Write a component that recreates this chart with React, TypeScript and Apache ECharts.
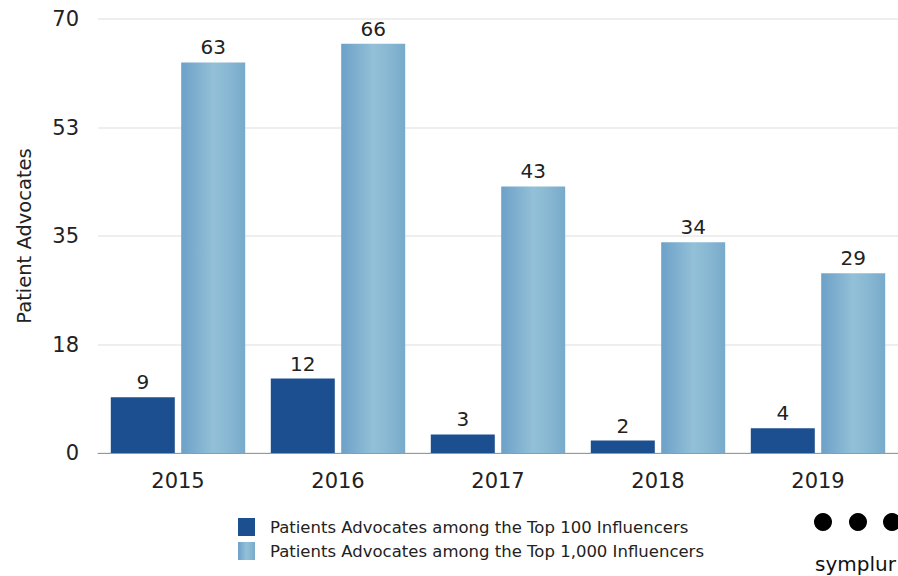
import React, { useEffect, useRef } from "react";
import * as echarts from "echarts";

const categories = ["2015", "2016", "2017", "2018", "2019"];
const top100 = [9, 12, 3, 2, 4];
const top1000 = [63, 66, 43, 34, 29];
const seriesNames = [
  "Patients Advocates among the Top 100 Influencers",
  "Patients Advocates among the Top 1,000 Influencers",
];
const yMax = 70;
const yInterval = 17.5;
const axisName = "Patient Advocates";
const brand = "symplur";

const FONT = "'DejaVu Sans', 'Noto Sans', sans-serif";

export default function App() {
  const ref = useRef<HTMLDivElement>(null);
  useEffect(() => {
    if (!ref.current) return;
    const chart = echarts.init(ref.current, undefined, { renderer: "svg" });
    const lightFill = new echarts.graphic.LinearGradient(0, 0, 1, 0, [
      { offset: 0, color: "#6ea1c8" },
      { offset: 0.25, color: "#7fb0d0" },
      { offset: 0.5, color: "#93c0d8" },
      { offset: 0.7, color: "#8ab9d3" },
      { offset: 1, color: "#78aacb" },
    ]);
    const labelStyle = {
      show: true,
      position: "top",
      fontSize: 20,
      color: "#222",
      distance: 5,
      fontFamily: FONT,
    };
    chart.setOption({
      animation: false,
      backgroundColor: "#ffffff",
      textStyle: { fontFamily: FONT },
      grid: { left: 98, right: 0, top: 19, bottom: 123 },
      legend: {
        orient: "vertical",
        left: 233,
        top: 513,
        icon: "rect",
        itemWidth: 17,
        itemHeight: 18,
        itemGap: 6,
        textStyle: { fontSize: 16.5, color: "#222", fontFamily: FONT, padding: [0, 0, 0, 10] },
        data: seriesNames,
      },
      xAxis: {
        type: "category",
        data: categories,
        axisLine: { lineStyle: { color: "#999", width: 1 } },
        axisTick: { show: false },
        axisLabel: { fontSize: 21, color: "#222", margin: 17, fontFamily: FONT },
      },
      yAxis: {
        type: "value",
        min: 0,
        max: yMax,
        interval: yInterval,
        name: axisName,
        nameLocation: "middle",
        nameGap: 64,
        nameTextStyle: { fontSize: 19.5, color: "#222", fontFamily: FONT },
        axisLine: { show: false },
        axisTick: { show: false },
        axisLabel: {
          fontSize: 21,
          color: "#222",
          margin: 19,
          fontFamily: FONT,
          formatter: (v: number) => String(Math.round(v)),
        },
        splitLine: { lineStyle: { color: "#e8e8e8", width: 1.5 } },
      },
      series: [
        {
          name: seriesNames[0],
          type: "bar",
          data: top100,
          barWidth: 64,
          barGap: "10%",
          itemStyle: { color: "#1c4f8f" },
          label: labelStyle,
        },
        {
          name: seriesNames[1],
          type: "bar",
          data: top1000,
          barWidth: 64,
          itemStyle: { color: lightFill },
          label: labelStyle,
        },
      ],
      graphic: [
        { type: "circle", shape: { cx: 823, cy: 522, r: 9 }, style: { fill: "#000" } },
        { type: "circle", shape: { cx: 858, cy: 522, r: 9 }, style: { fill: "#000" } },
        { type: "circle", shape: { cx: 892, cy: 522, r: 9 }, style: { fill: "#000" } },
        {
          type: "text",
          left: 815,
          top: 554,
          style: {
            text: brand,
            fontSize: 20,
            fill: "#111",
            fontFamily: FONT,
          },
        },
      ],
    });
    return () => chart.dispose();
  }, []);
  return (
    <div
      ref={ref}
      style={{ position: "fixed", left: 0, top: 0, width: 898, height: 576 }}
    />
  );
}
